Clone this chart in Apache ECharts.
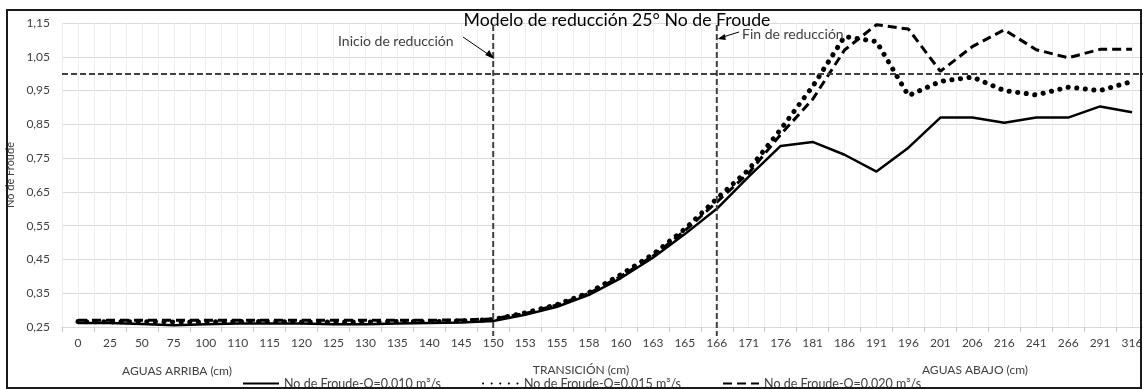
<!DOCTYPE html>
<html><head><meta charset="utf-8">
<script src="https://cdn.jsdelivr.net/npm/echarts@6/dist/echarts.min.js"></script>
<style>html,body{margin:0;padding:0;background:#fff}#c{width:1143px;height:389px}</style>
</head><body><div id="c"></div>
<script>
const categories = ['0','25','50','75','100','110','115','120','125','130','135','140','145','150','153','155','158','160','163','165','166','171','176','181','186','191','196','201','206','216','241','266','291','316'];
const yTickLabels = ['0,25','0,35','0,45','0,55','0,65','0,75','0,85','0,95','1,05','1,15'];
const seriesNames = ['No de Froude-Q=0.010 m³/s','No de Froude-Q=0.015 m³/s','No de Froude-Q=0.020 m³/s'];
const sectionLabels = ['AGUAS ARRIBA (cm)','TRANSICIÓN (cm)','AGUAS ABAJO (cm)'];
const froudeQ010 = [0.262,0.262,0.259,0.255,0.258,0.260,0.260,0.260,0.258,0.258,0.260,0.262,0.263,0.268,0.286,0.310,0.345,0.395,0.455,0.525,0.600,0.695,0.786,0.798,0.760,0.710,0.781,0.870,0.870,0.855,0.870,0.870,0.903,0.886];
const froudeQ015 = [0.266,0.265,0.266,0.265,0.265,0.266,0.266,0.265,0.265,0.265,0.266,0.266,0.268,0.272,0.292,0.316,0.352,0.405,0.465,0.540,0.630,0.716,0.835,0.962,1.110,1.095,0.935,0.977,0.990,0.950,0.937,0.960,0.950,0.977];
const froudeQ020 = [0.270,0.270,0.270,0.270,0.270,0.270,0.270,0.270,0.270,0.270,0.270,0.270,0.271,0.274,0.290,0.315,0.350,0.400,0.460,0.535,0.620,0.706,0.820,0.924,1.070,1.145,1.132,1.007,1.080,1.130,1.071,1.047,1.072,1.072];
const criticalFroude = 1.0;
const startReduction = '150';
const endReduction = '166';

const FONT = 'Lato';
const TXT = '#404040';
const chart = echarts.init(document.getElementById('c'), null, {renderer: 'canvas'});

const option = {
  animation: false,
  backgroundColor: '#fff',
  textStyle: {fontFamily: FONT},
  title: {
    text: 'Modelo de reducción 25° No de Froude',
    left: 612, top: 6, textAlign: 'center',
    textStyle: {fontFamily: FONT, fontSize: 17.7, fontWeight: 'normal', color: '#000'}
  },
  legend: {
    left: 242, top: 377, padding: 0,
    itemWidth: 36, itemHeight: 10, itemGap: 41,
    itemStyle: {color: 'rgba(0,0,0,0)', borderWidth: 0},
    textStyle: {fontFamily: FONT, fontSize: 12.5, color: TXT},
    data: seriesNames
  },
  grid: {left: 62, top: 23, width: 1086, height: 304, containLabel: false, outerBoundsMode: 'none'},
  xAxis: [
    {
      type: 'category', data: categories, boundaryGap: true,
      axisLine: {show: true, lineStyle: {color: '#d9d9d9', width: 1}},
      axisTick: {show: true, length: 5, lineStyle: {color: '#c8c8c8'}},
      axisLabel: {interval: 0, fontFamily: FONT, fontSize: 12, color: TXT, margin: 10},
      splitLine: {show: false}
    },
    {
      type: 'value', min: 0, max: 68, interval: 1, position: 'bottom',
      axisLine: {show: false}, axisTick: {show: false}, axisLabel: {show: false},
      splitLine: {show: true, lineStyle: {color: '#ededed', width: 1}}
    }
  ],
  yAxis: [
    {
      type: 'value', min: 0.25, max: 1.15, show: false, position: 'left',
      splitLine: {show: false}
    },
    {
      type: 'value', min: 0, max: yTickLabels.length - 1, interval: 1, position: 'left',
      axisLine: {show: false}, axisTick: {show: false},
      axisLabel: {fontFamily: FONT, fontSize: 12, color: TXT, margin: 12, formatter: v => yTickLabels[v]},
      splitLine: {show: true, lineStyle: {color: '#d9d9d9', width: 1}},
      name: 'No de Froude', nameLocation: 'middle', nameGap: 37, nameRotate: 90,
      nameTextStyle: {fontFamily: FONT, fontSize: 11, color: TXT}
    }
  ],
  series: [
    {
      name: seriesNames[0], type: 'line', data: froudeQ010, xAxisIndex: 0, yAxisIndex: 0,
      symbol: 'none', z: 5,
      lineStyle: {color: '#000', width: 2.5, type: 'solid'}, itemStyle: {color: '#000'}
    },
    {
      name: seriesNames[1], type: 'line', data: froudeQ015, xAxisIndex: 0, yAxisIndex: 0,
      symbol: 'none', z: 4,
      lineStyle: {color: '#000', width: 5, type: [0.1, 8.5], cap: 'round'}, itemStyle: {color: '#000'}
    },
    {
      name: seriesNames[2], type: 'line', data: froudeQ020, xAxisIndex: 0, yAxisIndex: 0,
      symbol: 'none', z: 3,
      lineStyle: {color: '#000', width: 3, type: [9, 5]}, itemStyle: {color: '#000'},
      markLine: {
        silent: true, symbol: 'none', label: {show: false},
        lineStyle: {color: '#404040', width: 2, type: [6, 3]},
        data: [{yAxis: criticalFroude}]
      }
    }
  ]
};
chart.setOption(option);

const xs = chart.convertToPixel({xAxisIndex: 0}, startReduction);
const xe = chart.convertToPixel({xAxisIndex: 0}, endReduction);
const yTop = chart.convertToPixel({yAxisIndex: 0}, 1.15);
const yBot = chart.convertToPixel({yAxisIndex: 0}, 0.25);
const dashStyle = {stroke: '#404040', lineWidth: 2, lineDash: [6, 3]};
const arrowStyle = {stroke: '#000', lineWidth: 1};

chart.setOption({
  graphic: [
    {type: 'line', shape: {x1: xs, y1: yTop + 2, x2: xs, y2: yBot + 9}, style: dashStyle, z: 10},
    {type: 'line', shape: {x1: xe, y1: yTop + 2, x2: xe, y2: yBot + 9}, style: dashStyle, z: 10},
    {type: 'text', left: 338, top: 34, style: {text: 'Inicio de reducción', font: '14px ' + FONT, fill: TXT}, z: 10},
    {type: 'line', shape: {x1: 463, y1: 37, x2: xs - 1, y2: 57}, style: arrowStyle, z: 10},
    {type: 'polygon', shape: {points: [[xs + 1, 59], [xs - 8, 55], [xs - 4, 50]]}, style: {fill: '#000'}, z: 10},
    {type: 'text', left: 742, top: 27, style: {text: 'Fin de reducción', font: '14px ' + FONT, fill: TXT}, z: 10},
    {type: 'line', shape: {x1: 739, y1: 32, x2: xe + 3, y2: 38}, style: arrowStyle, z: 10},
    {type: 'polygon', shape: {points: [[xe + 1, 39], [xe + 8, 34], [xe + 9, 40]]}, style: {fill: '#000'}, z: 10},
    {type: 'text', x: 177, y: 371, style: {text: sectionLabels[0], font: '12px ' + FONT, fill: TXT, align: 'center', verticalAlign: 'middle'}, z: 10},
    {type: 'text', x: 581, y: 370, style: {text: sectionLabels[1], font: '12px ' + FONT, fill: TXT, align: 'center', verticalAlign: 'middle'}, z: 10},
    {type: 'text', x: 975, y: 370, style: {text: sectionLabels[2], font: '12px ' + FONT, fill: TXT, align: 'center', verticalAlign: 'middle'}, z: 10},
    {type: 'rect', shape: {x: 7, y: 10, width: 1134, height: 378}, style: {fill: 'none', stroke: '#1a1a1a', lineWidth: 2}, z: 20, silent: true}
  ]
});
</script>
</body></html>
